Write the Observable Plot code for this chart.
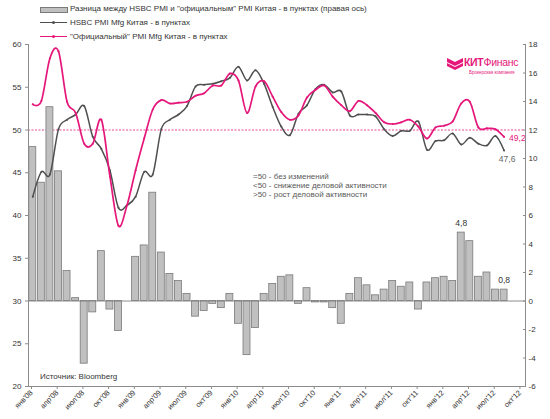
<!DOCTYPE html>
<html><head><meta charset="utf-8">
<script src="https://cdn.jsdelivr.net/npm/d3@7"></script>
<script src="https://cdn.jsdelivr.net/npm/@observablehq/plot@0.6"></script>
<style>
body{margin:0;background:#fff;font-family:"Liberation Sans",Arial,sans-serif;}
#wrap{position:relative;width:550px;height:419px;overflow:hidden;}
#wrap svg{position:absolute;left:0;top:0;}
.lg{position:absolute;font-size:8px;color:#333;white-space:nowrap;line-height:10px;}
.sw{position:absolute;}
.note{position:absolute;left:253px;top:172px;font-size:8px;line-height:9px;color:#595959;white-space:nowrap;}
.src{position:absolute;left:40px;top:372px;font-size:8px;color:#333;}
.logo{position:absolute;left:447px;top:57px;width:80px;height:20px;}
.logo .t{position:absolute;left:17px;top:-1px;font-size:10.5px;color:#e5177b;white-space:nowrap;letter-spacing:-0.3px;}
.logo .s{position:absolute;left:22px;top:13px;font-size:4.5px;color:#e5177b;white-space:nowrap;}
</style></head><body><div id="wrap"></div>
<script>
// Categories: monthly, Jan 2008 .. Oct 2012 on the axis
const months = d3.utcMonths(new Date(Date.UTC(2008,0,1)), new Date(Date.UTC(2012,10,1)));
const tickLabels = ["янв'08","апр'08","июл'08","окт'08","янв'09","апр'09","июл'09","окт'09","янв'10","апр'10","июл'10","окт'10","янв'11","апр'11","июл'11","окт'11","янв'12","апр'12","июл'12","окт'12"];
const leftTicks = [20,25,30,35,40,45,50,55,60];
const rightTicks = [-6,-4,-2,0,2,4,6,8,10,12,14,16,18];

// "Official" PMI (left axis)
const official = [53.0,53.4,58.4,59.2,53.3,52.0,48.4,48.4,51.2,44.6,38.8,41.2,
  45.3,49.0,52.4,53.5,53.1,53.2,53.3,54.0,54.3,55.2,55.2,56.6,
  55.8,52.0,55.1,55.7,53.9,52.1,51.2,51.7,53.8,54.7,55.2,53.9,
  52.9,52.2,53.4,52.9,52.0,50.9,50.7,50.9,51.2,50.4,49.0,50.3,
  50.5,51.0,53.1,53.3,50.3,50.2,50.1,49.2];
// HSBC PMI as plotted (left axis)
const hsbc = [42.2,45.1,44.8,50.1,51.2,51.8,52.8,49.2,47.8,45.3,40.9,41.2,
  42.2,45.1,44.8,50.1,51.2,51.8,52.8,55.1,55.3,55.4,55.7,56.1,
  57.4,55.8,57.0,55.4,52.7,50.4,49.4,51.9,52.9,54.8,55.3,54.4,
  54.5,51.7,51.8,51.8,51.6,50.1,49.3,49.9,49.9,51.0,47.7,48.7,
  48.8,49.6,48.3,49.1,48.4,48.2,49.3,47.6];
// Difference (right axis)
const diff = [10.8,8.3,13.6,9.1,2.1,0.2,-4.4,-0.8,3.5,-0.6,-2.1,0.0,
  3.1,3.9,7.6,3.4,1.9,1.4,0.5,-1.1,-0.7,-0.2,-0.5,0.5,
  -1.6,-3.8,-1.9,0.5,1.2,1.7,1.8,-0.2,0.9,-0.1,-0.1,-0.5,
  -1.6,0.5,1.6,1.1,0.4,0.8,1.4,1.0,1.3,-0.6,1.3,1.6,
  1.7,1.4,4.8,4.2,1.7,2.0,0.8,0.8];
const labelledBars = [50, 55];

const pink = "#e5177b", grayLine = "#4f4f4f", axisColor = "#8c8c8c";
const toLeft = r => 30 + r / 0.6; // right-axis value -> left-axis units
const fmt = v => v.toFixed(1).replace(".", ",");
const rows = official.map((v, i) => ({i, month: months[i], official: v, hsbc: hsbc[i], diff: diff[i]}));
const last = rows[rows.length - 1];
const tickPos = months.map((m, i) => i).filter(i => i % 3 === 0);

const chart = Plot.plot({
  width: 550, height: 419,
  marginLeft: 28, marginRight: 25, marginTop: 44, marginBottom: 33,
  x: {domain: [0, months.length], axis: null, label: null},
  y: {domain: [20, 60], axis: null, label: null},
  style: {fontFamily: "Liberation Sans, Arial, sans-serif", fontSize: "8px", color: "#333", background: "transparent", overflow: "visible"},
  marks: [
    Plot.ruleY([50], {stroke: pink, strokeWidth: 0.8, strokeDasharray: "2,1.5"}),
    Plot.rectY(rows, {x1: d => d.i, x2: d => d.i + 1, y1: 30, y2: d => toLeft(d.diff), fill: "#c0c0c0", stroke: "#7a7a7a", strokeWidth: 0.8, insetLeft: 0.8, insetRight: 0.8}),
    Plot.ruleY([30], {stroke: "#7f7f7f", strokeWidth: 0.9}),
    Plot.line(rows, {x: d => d.i + 0.5, y: "hsbc", curve: "cardinal", stroke: grayLine, strokeWidth: 1.5}),
    Plot.dot(rows, {x: d => d.i + 0.5, y: "hsbc", r: 1, fill: grayLine}),
    Plot.line(rows, {x: d => d.i + 0.5, y: "official", curve: "cardinal", stroke: pink, strokeWidth: 1.7}),
    Plot.dot(rows, {x: d => d.i + 0.5, y: "official", r: 1, fill: pink}),
    Plot.text(rows.filter(d => labelledBars.includes(d.i)), {x: d => d.i + 0.5, y: d => toLeft(d.diff), text: d => fmt(d.diff), dy: -9, fill: "#333", fontSize: 8.5}),
    Plot.text([last], {x: d => d.i + 0.5, y: "official", text: d => fmt(d.official), dx: 5, dy: 1, textAnchor: "start", fill: pink, fontSize: 8.5}),
    Plot.text([last], {x: d => d.i + 0.5, y: "hsbc", text: d => fmt(d.hsbc), dx: 3, dy: 9, fill: "#666", fontSize: 8.5}),
    Plot.ruleX([0], {stroke: axisColor}),
    Plot.ruleX([months.length], {stroke: axisColor}),
    Plot.ruleY([20], {stroke: axisColor}),
    Plot.axisY(leftTicks, {anchor: "left", label: null, tickSize: 3, tickPadding: 4, stroke: axisColor, fill: "#333", fontSize: 8}),
    Plot.axisY(rightTicks.map(toLeft), {anchor: "right", label: null, tickSize: 3, dx: -3, stroke: axisColor, tickFormat: () => ""}),
    Plot.axisY(rightTicks.map(toLeft), {anchor: "right", label: null, tickSize: 0, tickPadding: 3, stroke: "none", fill: "#333", fontSize: 8, tickFormat: v => String(Math.round((v - 30) * 0.6))}),
    Plot.axisX(tickPos, {anchor: "bottom", label: null, tickSize: 3, tickRotate: -45, tickPadding: 2, dx: 3, stroke: axisColor, fill: "#333", fontSize: 7.5, tickFormat: v => tickLabels[v / 3]})
  ]
});
const wrap = document.getElementById("wrap");
wrap.appendChild(chart);

// Legend / annotations (HTML overlay)
wrap.insertAdjacentHTML("beforeend", `
<div class="sw" style="left:40px;top:7px;width:26px;height:4px;background:#c0c0c0;border:1px solid #7a7a7a;"></div>
<div class="lg" style="left:70px;top:4px;">Разница между HSBC PMI и "официальным" PMI Китая - в пунктах (правая ось)</div>
<div class="sw" style="left:40px;top:22px;width:27px;height:1.4px;background:${grayLine};"></div>
<div class="sw" style="left:52px;top:21px;width:3px;height:3px;border-radius:2px;background:${grayLine};"></div>
<div class="lg" style="left:70px;top:18px;">HSBC PMI Mfg Китая - в пунктах</div>
<div class="sw" style="left:40px;top:35.5px;width:27px;height:1.8px;background:${pink};"></div>
<div class="sw" style="left:52px;top:35px;width:3px;height:3px;border-radius:2px;background:${pink};"></div>
<div class="lg" style="left:70px;top:31.5px;">"Официальный" PMI Mfg Китая - в пунктах</div>
<div class="note">=50 - без изменений<br>&lt;50 - снижение деловой активности<br>&gt;50 - рост деловой активности</div>
<div class="src">Источник: Bloomberg</div>
<div class="logo">
  <svg width="16" height="12" style="position:absolute;left:0;top:1px;" viewBox="0 0 16 12">
    <path d="M0 0 L8 4 L16 0 L16 4 L8 8 L0 4 Z" fill="${pink}"/>
    <path d="M0 5 L8 9 L16 5 L16 8 L8 12 L0 8 Z" fill="${pink}"/>
  </svg>
  <div class="t"><b>КИТ</b>Финанс</div>
  <div class="s">Брокерская компания</div>
</div>`);
</script></body></html>
